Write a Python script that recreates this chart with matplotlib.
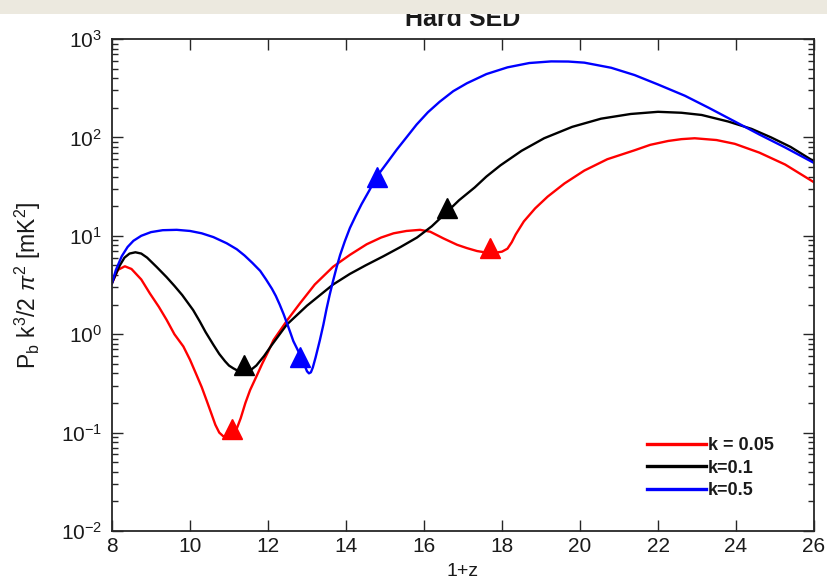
import math
import matplotlib
matplotlib.use("Agg")
import matplotlib.pyplot as plt
from matplotlib import font_manager
from matplotlib.ticker import LogLocator, FixedLocator, NullFormatter, FuncFormatter
from matplotlib.patches import Rectangle

# pick a narrow sans face when present
names = {f.name for f in font_manager.fontManager.ttflist}
base_font = "Liberation Sans Narrow" if "Liberation Sans Narrow" in names else "Liberation Sans"
plt.rcParams["font.family"] = [base_font, "DejaVu Sans"]
plt.rcParams["mathtext.fontset"] = "custom"
plt.rcParams["mathtext.rm"] = base_font
plt.rcParams["mathtext.it"] = base_font + ":italic"

# ---- data ----
z_red = [8.0, 8.15, 8.33, 8.5, 8.75, 8.97, 9.2, 9.4, 9.6, 9.83, 10.0, 10.15, 10.3, 10.43,
         10.55, 10.65, 10.75, 10.85, 11.0, 11.11, 11.2, 11.3, 11.42, 11.54, 11.7, 11.85,
         12.0, 12.14, 12.5, 12.82, 13.2, 13.67, 14.1, 14.53, 14.9, 15.22, 15.55, 15.9,
         16.16, 16.5, 16.85, 17.1, 17.36, 17.6, 17.8, 18.0, 18.14, 18.25, 18.35, 18.56,
         18.85, 19.17, 19.6, 20.11, 20.7, 21.4, 21.8, 22.26, 22.6, 22.94, 23.5, 23.97,
         24.6, 25.26, 26.0]
p_red = [3.3, 4.5, 4.9, 4.6, 3.6, 2.6, 1.9, 1.4, 1.0, 0.75, 0.55, 0.4, 0.29, 0.21,
         0.155, 0.12, 0.1, 0.092, 0.09, 0.095, 0.11, 0.14, 0.2, 0.27, 0.37, 0.5,
         0.66, 0.87, 1.4, 2.06, 3.2, 4.85, 6.4, 8.2, 9.6, 10.6, 11.2, 11.5,
         11.0, 9.4, 8.1, 7.5, 7.0, 6.75, 6.7, 6.9, 7.4, 8.6, 10.3, 14.0,
         19.0, 25, 34, 46, 60, 74, 84, 92, 96, 98, 94, 86,
         70, 53, 35]

z_black = [8.0, 8.1, 8.2, 8.32, 8.45, 8.6, 8.75, 8.9, 9.15, 9.4, 9.6, 9.8, 10.08, 10.25,
           10.4, 10.6, 10.75, 10.9, 11.0, 11.11, 11.25, 11.4, 11.55, 11.7, 11.9, 12.1,
           12.48, 13.0, 13.67, 14.1, 14.5, 14.96, 15.4, 15.82, 16.2, 16.59, 16.9, 17.3,
           17.6, 17.96, 18.5, 19.08, 19.8, 20.54, 21.3, 22.0, 22.6, 23.12, 23.8, 24.4,
           24.9, 25.4, 26.0]
p_black = [3.3, 4.1, 5.0, 6.0, 6.6, 6.8, 6.6, 6.0, 4.8, 3.8, 3.1, 2.5, 1.76, 1.35,
           1.05, 0.78, 0.63, 0.53, 0.48, 0.45, 0.42, 0.41, 0.43, 0.48, 0.6, 0.78,
           1.25, 1.95, 3.2, 4.1, 5.0, 6.2, 7.7, 9.6, 12.5, 17.5, 23, 31,
           40, 52, 73, 98, 128, 155, 173, 182, 178, 169, 145, 122,
           100, 80, 57]

z_blue = [8.0, 8.1, 8.25, 8.4, 8.55, 8.75, 9.0, 9.3, 9.66, 10.0, 10.3, 10.6, 10.94, 11.2,
          11.4, 11.6, 11.8, 11.95, 12.1, 12.2, 12.3, 12.4, 12.5, 12.58, 12.65, 12.74,
          12.82, 12.9, 12.95, 13.0, 13.05, 13.1, 13.15, 13.22, 13.33, 13.42, 13.5, 13.58,
          13.67, 13.76, 13.85, 13.97, 14.1, 14.25, 14.4, 14.6, 14.79, 15.05, 15.3, 15.55,
          15.81, 16.1, 16.4, 16.75, 17.1, 17.6, 18.14, 18.7, 19.26, 19.7, 20.11, 20.8,
          21.4, 22.0, 22.69, 23.3, 23.97, 24.6, 25.26, 26.0]
p_blue = [3.3, 4.5, 6.2, 7.7, 8.9, 10.0, 10.9, 11.4, 11.5, 11.2, 10.6, 9.7, 8.4, 7.3,
          6.3, 5.3, 4.4, 3.6, 2.9, 2.45, 2.0, 1.6, 1.25, 1.02, 0.85, 0.72,
          0.62, 0.53, 0.47, 0.42, 0.40, 0.41, 0.46, 0.58, 0.87, 1.25, 1.8, 2.5,
          3.5, 4.8, 6.4, 8.8, 12, 16, 21, 29, 40, 55, 75, 100,
          135, 180, 230, 295, 355, 440, 515, 570, 592, 590, 575, 510,
          430, 345, 265, 200, 145, 107, 79, 55]

mark_z_red, mark_p_red = [11.08, 17.69], [0.108, 7.5]
mark_z_black, mark_p_black = [11.38, 16.58], [0.49, 19]
mark_z_blue, mark_p_blue = [12.82, 14.79], [0.59, 40]

labels = ["k = 0.05", "k=0.1", "k=0.5"]
x_ticks = [8, 10, 12, 14, 16, 18, 20, 22, 24, 26]

# ---- figure ----
fig = plt.figure(figsize=(8.27, 5.80), dpi=100)
ax = fig.add_axes([112 / 827, 1 - 531 / 580, (814 - 112) / 827, (531 - 39) / 580])

series = [
    (z_red, p_red, mark_z_red, mark_p_red, "#ff0000"),
    (z_black, p_black, mark_z_black, mark_p_black, "#000000"),
    (z_blue, p_blue, mark_z_blue, mark_p_blue, "#0000ff"),
]
for (zz, pp, mz, mp, c), lab in zip(series, labels):
    ax.plot(zz, pp, color=c, lw=1.7, label=lab, solid_joinstyle="round")
    ax.plot(mz, mp, linestyle="none", marker="^", ms=14, color=c, mec=c)

ax.set_yscale("log")
ax.set_xlim(8, 26)
ax.set_ylim(1e-2, 1e3)
ax.xaxis.set_major_locator(FixedLocator(x_ticks))
ax.yaxis.set_major_locator(LogLocator(base=10, numticks=10))
ax.yaxis.set_minor_locator(LogLocator(base=10, subs=range(2, 10), numticks=20))
ax.yaxis.set_minor_formatter(NullFormatter())
ax.yaxis.set_major_formatter(
    FuncFormatter(lambda v, pos: r"$\mathregular{10^{%d}}$" % round(math.log10(v))))

ax.tick_params(which="both", direction="in", top=True, right=True, colors="#262626",
               labelcolor="#1a1a1a", width=1.0)
ax.tick_params(which="major", length=8, labelsize=15)
ax.tick_params(axis="x", which="major", pad=4)
ax.tick_params(axis="y", which="major", pad=7)
ax.tick_params(which="minor", length=4)
ax.tick_params(axis="x", which="minor", bottom=False, top=False)
for s in ax.spines.values():
    s.set_linewidth(1.3)
    s.set_color("#262626")

ax.set_xlabel("1+z", fontsize=14, color="#1a1a1a", labelpad=5)
ax.set_ylabel(r"P$_\mathregular{b}$ k$^\mathregular{3}$/2 $\pi^\mathregular{2}$ [mK$^\mathregular{2}$]",
              fontsize=16.5, color="#1a1a1a", labelpad=13)
ax.set_title("Hard SED", fontsize=18, fontweight="bold", color="#1a1a1a", pad=9)

leg = ax.legend(loc="lower right", bbox_to_anchor=(0.953, 0.05), frameon=False,
                fontsize=13, handlelength=3.3, handletextpad=0.1, labelspacing=0.3,
                borderaxespad=0.0)
for t in leg.get_texts():
    t.set_fontweight("bold")
    t.set_color("#1a1a1a")
for h in leg.get_lines():
    h.set_linewidth(2.4)

# grey window strip across the top edge
fig.patches.append(Rectangle((0, 1 - 14 / 580), 1, 14 / 580, transform=fig.transFigure,
                             facecolor="#ece9df", edgecolor="none", zorder=10))

fig.savefig("out.png", dpi=100)
